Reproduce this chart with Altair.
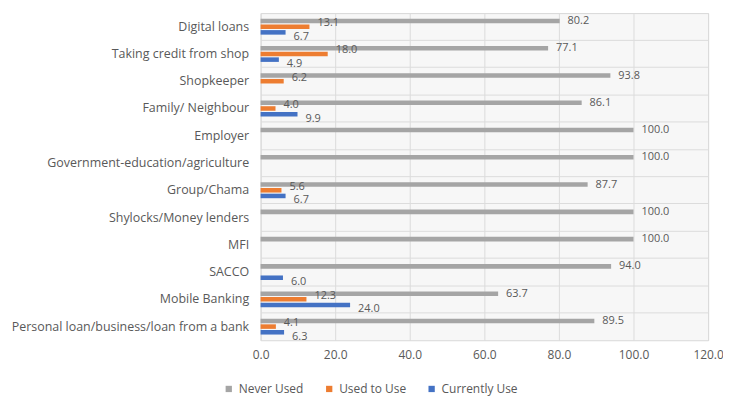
import altair as alt
import pandas as pd

categories = [
    "Digital loans",
    "Taking credit from shop",
    "Shopkeeper",
    "Family/ Neighbour",
    "Employer",
    "Government-education/agriculture",
    "Group/Chama",
    "Shylocks/Money lenders",
    "MFI",
    "SACCO",
    "Mobile Banking",
    "Personal loan/business/loan from a bank",
]
never_used = [80.2, 77.1, 93.8, 86.1, 100.0, 100.0, 87.7, 100.0, 100.0, 94.0, 63.7, 89.5]
used_to_use = [13.1, 18.0, 6.2, 4.0, 0.0, 0.0, 5.6, 0.0, 0.0, 0.0, 12.3, 4.1]
currently_use = [6.7, 4.9, 0.0, 9.9, 0.0, 0.0, 6.7, 0.0, 0.0, 6.0, 24.0, 6.3]
series = ["Never Used", "Used to Use", "Currently Use"]
colors = ["#a5a5a5", "#ed7d31", "#4472c4"]
x_ticks = [0, 20, 40, 60, 80, 100, 120]

rows = []
for s, vals in zip(series, [never_used, used_to_use, currently_use]):
    for c, v in zip(categories, vals):
        rows.append({"Category": c, "Series": s, "Value": v})
df = pd.DataFrame(rows)

txt = "#595959"
font = "Open Sans"

base = alt.Chart(df).encode(
    y=alt.Y(
        "Category:N",
        sort=categories,
        scale=alt.Scale(paddingInner=0, paddingOuter=0),
        axis=alt.Axis(
            title=None, ticks=False, domain=False, labelPadding=12,
            labelFontSize=12.5, labelColor=txt, labelFont=font, labelLimit=400,
            grid=True, bandPosition=0, gridColor="#dcdcdc",
        ),
    ),
    yOffset=alt.YOffset(
        "Series:N", sort=series,
        scale=alt.Scale(paddingInner=0.2, paddingOuter=1),
    ),
)

xenc = alt.X(
    "Value:Q",
    scale=alt.Scale(domain=[0, 120], nice=False),
    axis=alt.Axis(
        title=None, values=x_ticks, format=".1f", ticks=False, domain=False,
        labelFontSize=12, labelColor=txt, labelFont=font, labelPadding=9,
        labelFlush=False, gridColor="#dcdcdc",
    ),
)

bars = base.mark_bar().encode(
    x=xenc,
    color=alt.Color(
        "Series:N",
        sort=series,
        scale=alt.Scale(domain=series, range=colors),
        legend=alt.Legend(
            title=None, orient="none", direction="horizontal",
            legendX=-38, legendY=372, symbolType="square", symbolSize=40,
            labelFontSize=12, labelColor=txt, labelFont=font, columnPadding=19,
            symbolStrokeWidth=0,
        ),
    ),
)

label_shift = {"Never Used": 0, "Used to Use": -3.5, "Currently Use": 4.5}
label_layers = []
for s in series:
    label_layers.append(
        base.transform_filter(
            (alt.datum.Series == s) & (alt.datum.Value > 0)
        ).mark_text(
            align="left", baseline="middle", dx=8, dy=label_shift[s],
            fontSize=11, color=txt, font=font,
        ).encode(
            x=alt.X("Value:Q"),
            text=alt.Text("Value:Q", format=".1f"),
        )
    )

chart = (
    alt.layer(bars, *label_layers)
    .properties(
        width=450, height=329,
        autosize=alt.AutoSizeParams(type="none"),
        padding={"left": 254, "top": 4, "right": 15, "bottom": 55},
        background="white",
    )
    .configure_view(fill="#f7f7f7", stroke="#d9d9d9")
)

chart.save("out.html", embed_options={"renderer": "svg", "actions": False})
